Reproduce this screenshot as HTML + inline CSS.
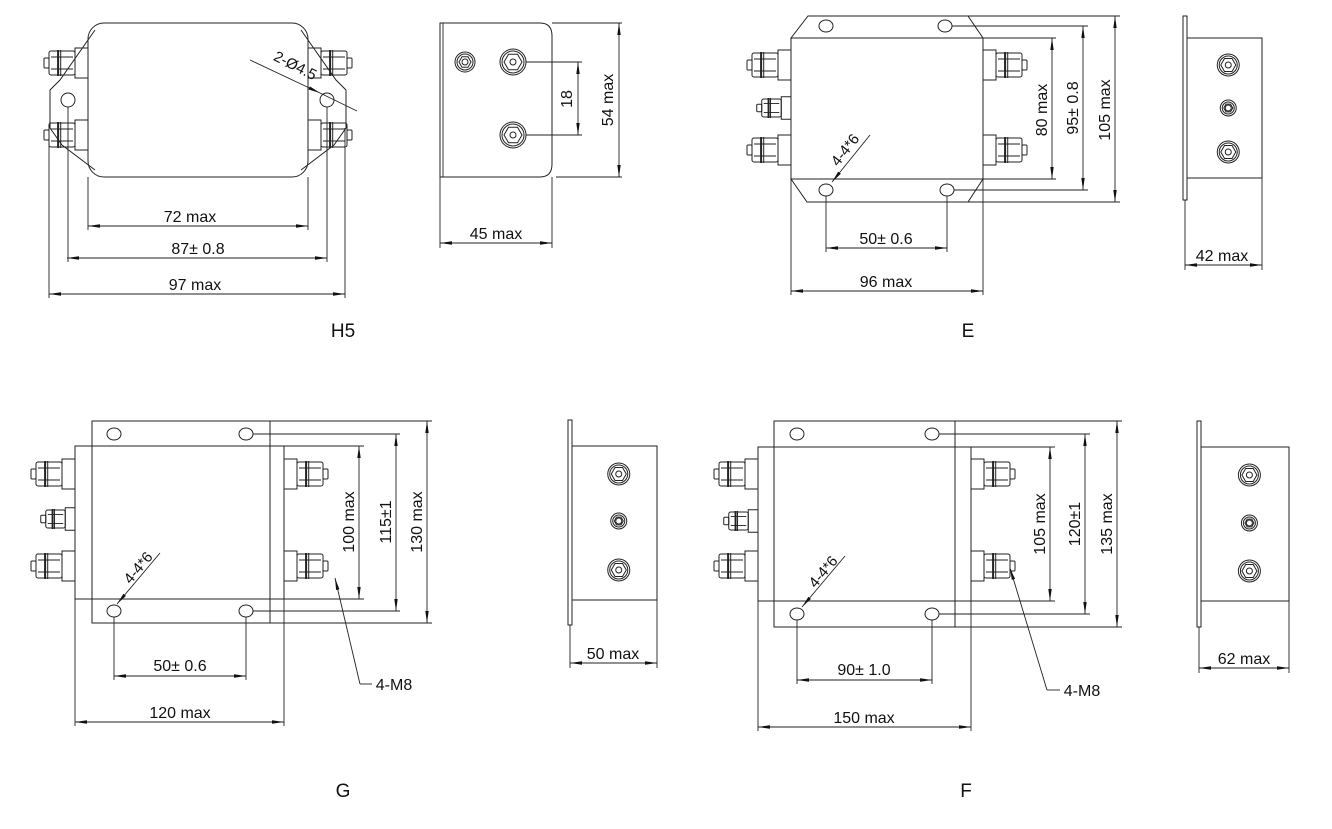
<!DOCTYPE html>
<html><head><meta charset="utf-8"><style>
html,body{margin:0;padding:0;background:#fff;}
svg{display:block}
text{font-family:"Liberation Sans",sans-serif;fill:#111;}
</style></head><body>
<svg id="s" width="1332" height="829" viewBox="0 0 1332 829" xmlns="http://www.w3.org/2000/svg">
<defs>
<marker id="a" viewBox="0 0 12 5" refX="12" refY="2.5" markerWidth="12" markerHeight="5" orient="auto-start-reverse" markerUnits="userSpaceOnUse"><path d="M0,0.8L12,2.5L0,4.2z" fill="#111"/></marker>
</defs>
<g id="g" fill="none" stroke="#222" stroke-width="1"></g>
</svg>
<script>
var g=document.getElementById('g'),s=document.getElementById('s'),NS='http://www.w3.org/2000/svg';
function el(t,a,p){var e=document.createElementNS(NS,t);for(var k in a)e.setAttribute(k,a[k]);(p||g).appendChild(e);return e;}
function L(x1,y1,x2,y2,w){el('line',{x1:x1,y1:y1,x2:x2,y2:y2,'stroke-width':w||0.9});}
function D(x1,y1,x2,y2){el('line',{x1:x1,y1:y1,x2:x2,y2:y2,'stroke-width':0.9,'marker-start':'url(#a)','marker-end':'url(#a)'});}
function R(x,y,w,h,rx){el('rect',{x:x,y:y,width:w,height:h,rx:rx||0});}
function C(x,y,r){el('circle',{cx:x,cy:y,r:r});}
function E(x,y,rx,ry){el('ellipse',{cx:x,cy:y,rx:rx,ry:ry});}
function T(x,y,t,rot,sz){var e=el('text',{x:x,y:y,'font-size':sz||16,'text-anchor':'middle',stroke:'none'},s);if(rot)e.setAttribute('transform','rotate('+rot+' '+x+' '+y+')');e.textContent=t;}
function term(x0,y,dir,small){var k=small?0.75:1;var sw=13*k,sh=30*k;
 var sx=dir<0?x0-sw:x0;R(sx,y-sh/2,sw,sh);
 var nx=dir<0?x0-sw:x0+sw;var nw=26*k,nh=24*k;
 var x1=dir<0?nx-nw:nx;R(x1,y-nh/2,nw,nh,2);
 L(x1+nw*0.35,y-nh/2-1,x1+nw*0.35,y+nh/2+1,2);L(x1+nw*0.45,y-nh/2-1,x1+nw*0.45,y+nh/2+1,1);
 L(x1+2,y-nh*0.25,x1+nw-2,y-nh*0.25);L(x1+2,y+nh*0.25,x1+nw-2,y+nh*0.25);
 var tx=dir<0?x1-5:x1+nw;R(tx,y-5*k,5,10*k,1);}
function side(px,py1,py2,bx1,bx2,by1,by2,ys){R(px,py1,4,py2-py1);R(bx1,by1,bx2-bx1,by2-by1);var cx=(bx1+bx2)/2+(bx2-bx1)*0.05;
 ys.forEach(function(y,i){var r=i==1?8:11;C(cx,y,r);C(cx,y,r-2);el('polygon',{points:hex(cx,y,r-3.5)});C(cx,y,3);});}
function hex(x,y,r){var p=[];for(var i=0;i<6;i++){var a=Math.PI/3*i;p.push((x+r*Math.cos(a)).toFixed(1)+','+(y+r*Math.sin(a)).toFixed(1));}return p.join(' ');}

/* ===== H5 front ===== */
el('path',{d:'M95,30 L60,80 L50,90 L50,128 L62,145 L95,170 M301,30 L336,80 L346,90 L346,128 L334,145 L301,170'});
R(88,23,220,154,16);
term(88,63,-1);term(88,135,-1);term(308,63,1);term(308,135,1);
C(68,100,7);C(327,100,7);
L(88,177,88,230);L(308,177,308,230);L(68,107,68,262);L(327,107,327,262);L(49,128,49,298);L(345,128,345,298);
D(88,226,308,226);T(190,222,'72 max');D(67,258,327,258);T(198,254,'87± 0.8');D(49,294,345,294);T(195,290,'97 max');
el('line',{x1:250,y1:60,x2:320,y2:93,'stroke-width':0.9,'marker-end':'url(#a)'});L(320,93,357,111);
T(293,70,'2-Ø4.5',27,15);
/* H5 side */
el('path',{d:'M440,23 L540,23 Q552,23 552,36 L552,164 Q552,177 540,177 L440,177 Z'});L(443,23,443,177);
[[465,62,10,1],[513,62,13,0],[513,135,13,0]].forEach(function(h){C(h[0],h[1],h[2]);C(h[0],h[1],h[2]-2);el('polygon',{points:hex(h[0],h[1],h[2]-4)});C(h[0],h[1],3);});
L(526,62,582,62);L(526,135,582,135);D(578,62,578,135);T(572,99,'18',-90);
L(552,23,622,23);L(556,177,622,177);D(619,23,619,177);T(613,100,'54 max',-90);
L(440,177,440,248);L(552,177,552,248);D(440,243,552,243);T(496,239,'45 max');
T(343,337,'H5',0,19);

/* ===== E front ===== */
el('polygon',{points:'791,38 808,16 968,16 983,38'});el('polygon',{points:'791,179 807,202 968,202 983,179'});
R(791,38,192,141);
term(791,65,-1);term(791,108,-1,1);term(791,150,-1);term(983,65,1);term(983,150,1);
E(826,26,7,6);E(945,26,7,6);E(826,190,7,6);E(947,190,7,6);
L(983,38,1056,38);L(983,179,1056,179);D(1052,38,1052,179);T(1047,110,'80 max',-90);
L(952,26,1088,26);L(954,190,1088,190);D(1083,26,1083,190);T(1078,108,'95± 0.8',-90);
L(968,16,1120,16);L(968,202,1120,202);D(1115,16,1115,202);T(1110,110,'105 max',-90);
L(826,196,826,252);L(947,196,947,252);D(826,248,947,248);T(886,244,'50± 0.6');
L(791,179,791,295);L(983,179,983,295);D(791,291,983,291);T(886,287,'96 max');
el('line',{x1:870,y1:135,x2:832,y2:182,'stroke-width':0.9,'marker-end':'url(#a)'});T(849,153,'4-4*6',-52,15);
/* E side */
side(1183,16,200,1187,1262,38,178,[65,108,152]);
L(1185,200,1185,270);L(1262,178,1262,270);D(1185,265,1262,265);T(1222,261,'42 max');
T(968,337,'E',0,19);

/* ===== G front ===== */
R(92,421,178,202);R(75,446,209,153);
term(75,474,-1);term(75,519,-1,1);term(75,566,-1);term(284,474,1);term(284,566,1);
E(114,434,7,6);E(246,434,7,6);E(114,611,7,6);E(246,611,7,6);
L(270,421,432,421);L(270,623,432,623);L(284,446,364,446);L(284,599,364,599);L(253,434,400,434);L(253,611,400,611);
D(359,446,359,599);T(354,522,'100 max',-90);D(396,434,396,611);T(391,522,'115±1',-90);D(427,421,427,623);T(422,522,'130 max',-90);
L(114,617,114,680);L(246,617,246,680);D(114,676,246,676);T(180,671,'50± 0.6');
L(75,599,75,726);L(284,599,284,726);D(75,722,284,722);T(180,718,'120 max');
el('line',{x1:360,y1:684,x2:335,y2:578,'stroke-width':0.9,'marker-end':'url(#a)'});L(360,684,372,684);T(394,690,'4-M8');
el('line',{x1:160,y1:553,x2:117,y2:604,'stroke-width':0.9,'marker-end':'url(#a)'});T(142,571,'4-4*6',-50,15);
/* G side */
side(568,420,625,572,657,446,600,[474,521,570]);
L(570,625,570,668);L(657,600,657,668);D(570,663,657,663);T(613,659,'50 max');
T(343,797,'G',0,19);

/* ===== F front ===== */
R(774,421,181,206);R(758,447,213,154);
term(758,474,-1);term(758,521,-1,1);term(758,566,-1);term(971,474,1);term(971,566,1);
E(797,434,7,6);E(932,434,7,6);E(797,614,7,6);E(932,614,7,6);
L(955,421,1122,421);L(955,627,1122,627);L(971,447,1055,447);L(971,601,1055,601);L(939,434,1090,434);L(939,614,1090,614);
D(1050,447,1050,601);T(1045,524,'105 max',-90);D(1085,434,1085,614);T(1080,524,'120±1',-90);D(1117,421,1117,627);T(1112,524,'135 max',-90);
L(797,620,797,684);L(932,620,932,684);D(797,680,932,680);T(864,675,'90± 1.0');
L(758,601,758,731);L(971,601,971,731);D(758,727,971,727);T(864,723,'150 max');
el('line',{x1:1047,y1:690,x2:1010,y2:568,'stroke-width':0.9,'marker-end':'url(#a)'});L(1047,690,1060,690);T(1082,696,'4-M8');
el('line',{x1:845,y1:556,x2:802,y2:607,'stroke-width':0.9,'marker-end':'url(#a)'});T(827,575,'4-4*6',-50,15);
/* F side */
side(1197,421,627,1201,1289,447,601,[475,523,571]);
L(1199,627,1199,673);L(1289,601,1289,673);D(1199,668,1289,668);T(1244,664,'62 max');
T(966,797,'F',0,19);
</script>
</body></html>
